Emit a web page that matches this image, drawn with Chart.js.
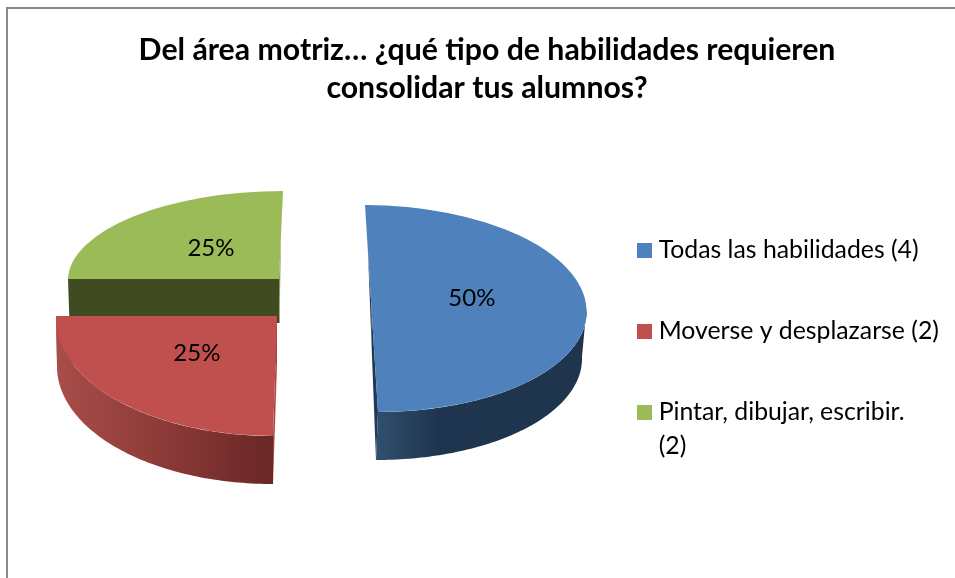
<!DOCTYPE html>
<html><head><meta charset="utf-8">
<style>html,body{margin:0;padding:0;background:#fff;overflow:hidden}#w{width:955px;height:578px}</style>
<script src="https://cdn.jsdelivr.net/npm/chart.js@4"></script>
</head><body><div id="w"><canvas id="c" width="955" height="578"></canvas></div>
<script>
const titleLines = ['Del área motriz… ¿qué tipo de habilidades requieren', 'consolidar tus alumnos?'];
const categories = ['Todas las habilidades (4)', 'Moverse y desplazarse (2)', ['Pintar, dibujar, escribir.', '(2)']];
const values = [4, 2, 2];
const faceColors = ['#4f81bd', '#c0504d', '#9bbb59'];

// 3-D look of each exploded slice: top face and bottom face as sheared ellipses
const topFaces = [
  {ax: 371.5, ay: 308.5, rx: 215, ry: 103.5, sk: 6.5},
  {ax: 277, ay: 316, rx: 221, ry: 120, sk: -4},
  {ax: 279, ay: 279, rx: 211, ry: 88, sk: -4}
];
const bottomFaces = [
  {ax: 372, ay: 356.5, rx: 210, ry: 103.5, sk: 4},
  {ax: 277, ay: 364, rx: 220, ry: 120, sk: -4},
  {ax: 279.5, ay: 323, rx: 210, ry: 88, sk: -1.5}
];
const cutColors = [['#1f3a56', '#1f3a56'], ['#a94542', '#a94542'], ['#404b21', '#7f9a48']];
const wallStops = [
  [[0, '#30506f'], [0.3, '#1f344e'], [1, '#1f344d']],
  [[0, '#a84d4a'], [0.45, '#8f3c39'], [1, '#692726']],
  [[0, '#404b21'], [1, '#404b21']]
];
const labelSpots = [[0.47, -0.1], [-0.357, 0.31], [-0.329, -0.352]];
const drawOrder = [2, 0, 1];

function pt(v, a) {
  const u = Math.cos(a), w = Math.sin(a);
  return [v.ax + v.rx * u + v.sk * w, v.ay + v.ry * w];
}

const frame = {
  id: 'frame',
  beforeDraw(chart) {
    const c = chart.ctx;
    c.save();
    c.strokeStyle = '#8a8a8a';
    c.lineWidth = 2;
    c.strokeRect(7, 8, 1000, 700);
    c.restore();
  }
};

const pie3d = {
  id: 'pie3d',
  afterLayout(chart) {
    const l = chart.legend, p = l.options.labels.padding;
    const h = l.height;
    l.left = 642.75 - p; l.right = l.left + l.width;
    l.top = 238 - p; l.bottom = l.top + h;
  },
  beforeDatasetDraw(chart) {
    const c = chart.ctx, arcs = chart.getDatasetMeta(0).data;
    drawOrder.forEach(i => {
      const el = arcs[i], t = topFaces[i], b = bottomFaces[i];
      const s = el.startAngle, e = el.endAngle;
      // straight cut walls
      [s, e].forEach((a, k) => {
        const p1 = pt(t, a), p2 = pt(b, a);
        c.fillStyle = cutColors[i][k];
        c.beginPath();
        c.moveTo(t.ax, t.ay); c.lineTo(p1[0], p1[1]); c.lineTo(p2[0], p2[1]); c.lineTo(b.ax, b.ay);
        c.closePath(); c.fill();
      });
      // curved outer wall, front part only
      const a0 = Math.max(s, 0), a1 = Math.min(e, Math.PI);
      if (a1 > a0) {
        const steps = 80, up = [], dn = [];
        for (let k = 0; k <= steps; k++) {
          const a = a0 + (a1 - a0) * k / steps;
          up.push(pt(t, a)); dn.push(pt(b, a));
        }
        const xs = up.concat(dn).map(q => q[0]);
        const g = c.createLinearGradient(Math.min(...xs), 0, Math.max(...xs), 0);
        wallStops[i].forEach(([o, col]) => g.addColorStop(o, col));
        c.fillStyle = g;
        c.beginPath();
        up.forEach((q, k) => k ? c.lineTo(q[0], q[1]) : c.moveTo(q[0], q[1]));
        dn.reverse().forEach(q => c.lineTo(q[0], q[1]));
        c.closePath(); c.fill();
      }
      // top face: the library's own arc element under a view transform
      const R = el.outerRadius;
      const kx = t.rx / R, ky = t.ry / R, kk = t.sk / R;
      c.save();
      c.transform(kx, 0, kk, ky, t.ax - el.x * kx - el.y * kk, t.ay - el.y * ky);
      el.draw(c, chart.chartArea);
      c.restore();
    });
    return false;
  },
  afterDatasetsDraw(chart) {
    const c = chart.ctx, total = values.reduce((a, b) => a + b, 0);
    c.save();
    c.fillStyle = '#000';
    c.font = '24px Lato';
    c.textAlign = 'center';
    c.textBaseline = 'middle';
    values.forEach((v, i) => {
      const t = topFaces[i], [u, w] = labelSpots[i];
      c.fillText(Math.round(v / total * 100) + '%', t.ax + t.rx * u + t.sk * w, t.ay + t.ry * w);
    });
    c.restore();
  }
};

new Chart(document.getElementById('c'), {
  type: 'pie',
  data: {labels: categories, datasets: [{data: values, backgroundColor: faceColors, borderWidth: 0}]},
  plugins: [frame, pie3d],
  options: {
    responsive: false,
    animation: false,
    layout: {padding: {left: 19, right: 0, top: 0, bottom: 0}},
    plugins: {
      tooltip: {enabled: false},
      title: {
        display: true, text: titleLines, color: '#000',
        font: {family: 'Lato', size: 30.25, weight: 'bold', lineHeight: 1.26},
        padding: {top: 31, bottom: 10}
      },
      legend: {
        position: 'right', align: 'start',
        labels: {
          color: '#000', usePointStyle: true, pointStyle: 'rect', boxWidth: 3.5, boxHeight: 15,
          font: {family: 'Lato', size: 24.8, lineHeight: 1.37}, padding: 56.2
        }
      }
    }
  }
});
</script></body></html>
